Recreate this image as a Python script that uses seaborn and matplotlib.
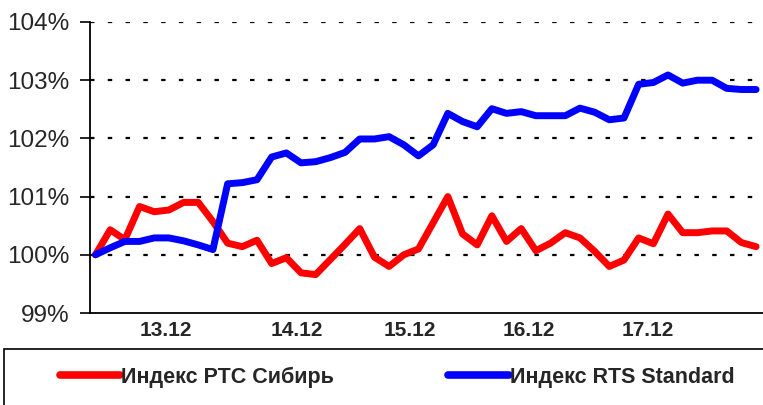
import pandas as pd
import matplotlib.pyplot as plt
import seaborn as sns
from matplotlib.patches import Rectangle

# index values, % of start
rtc_sib = [100.0, 100.43, 100.26, 100.83, 100.74, 100.77, 100.9, 100.9, 100.57, 100.2,
           100.14, 100.25, 99.85, 99.95, 99.69, 99.66, 99.92, 100.18, 100.45, 99.96,
           99.8, 100.0, 100.1, 100.55, 101.0, 100.36, 100.17, 100.67, 100.23, 100.45,
           100.07, 100.2, 100.38, 100.29, 100.06, 99.8, 99.91, 100.29, 100.19, 100.7,
           100.38, 100.38, 100.41, 100.41, 100.21, 100.14]
rts_std = [100.0, 100.12, 100.23, 100.23, 100.29, 100.29, 100.24, 100.17, 100.09, 101.22,
           101.24, 101.29, 101.68, 101.75, 101.58, 101.6, 101.67, 101.76, 101.99, 101.99,
           102.03, 101.89, 101.7, 101.89, 102.43, 102.29, 102.2, 102.51, 102.43, 102.46,
           102.39, 102.39, 102.39, 102.52, 102.45, 102.32, 102.35, 102.93, 102.96, 103.09,
           102.95, 103.0, 103.0, 102.86, 102.84, 102.84]
series_names = ['Индекс РТС Сибирь', 'Индекс RTS Standard']
day_labels = ['13.12', '14.12', '15.12', '16.12', '17.12']
day_pos = [4.8, 13.7, 21.4, 29.5, 37.6]
y_ticks = [99, 100, 101, 102, 103, 104]

n = len(rtc_sib)
df = pd.DataFrame({
    'step': list(range(n)) * 2,
    'value': rtc_sib + rts_std,
    'series': [series_names[0]] * n + [series_names[1]] * n,
})

sns.set_style('white')
plt.rcParams['font.family'] = ['Liberation Sans', 'DejaVu Sans']

fig = plt.figure(figsize=(7.63, 4.05), dpi=100)
ax = fig.add_axes([90 / 763, 1 - 313 / 405, 1 - 90 / 763, (313 - 22) / 405])

sns.lineplot(data=df, x='step', y='value', hue='series', hue_order=series_names,
             palette=['#ff0000', '#0000ff'], linewidth=5, ax=ax, legend=True)
for ln in ax.lines:
    ln.set_solid_capstyle('round')
    ln.set_solid_joinstyle('round')

ax.set_xlim(-0.375, 45.47)
ax.set_ylim(99, 104)
ax.set_yticks(y_ticks)
ax.set_yticklabels([f'{v}%' for v in y_ticks], fontsize=17.5)
ax.set_xticks(day_pos)
ax.set_xticklabels(day_labels, fontsize=15, fontweight='bold')
ax.tick_params(axis='x', length=0, pad=6)
ax.tick_params(axis='y', length=7, width=1.2, color='black', direction='out', pad=8, left=True)
ax.set_xlabel('')
ax.set_ylabel('')

for v in y_ticks[1:]:
    ax.axhline(v, color='black', lw=1.6, linestyle=(0, (2, 6)), zorder=0)

sns.despine(ax=ax, top=True, right=True)
ax.spines['left'].set_color('black')
ax.spines['bottom'].set_color('black')
ax.spines['left'].set_linewidth(1.3)
ax.spines['bottom'].set_linewidth(1.3)

handles, labels = ax.get_legend_handles_labels()
ax.get_legend().remove()
leg = fig.legend(handles, labels, loc='center left', bbox_to_anchor=(60 / 763, 1 - 377 / 405),
                 ncol=2, frameon=False, handlelength=2.8, handletextpad=0.05,
                 columnspacing=5.3, borderpad=0, borderaxespad=0,
                 prop={'weight': 'bold', 'size': 15.5})
for h in leg.get_lines():
    h.set_linewidth(5.5)
    h.set_solid_capstyle('round')

fig.patches.append(Rectangle((4 / 763, -0.2), 1.2, (405 - 349) / 405 + 0.2,
                             transform=fig.transFigure, fill=False, ec='black', lw=1.2))

fig.savefig('out.png', dpi=100)
